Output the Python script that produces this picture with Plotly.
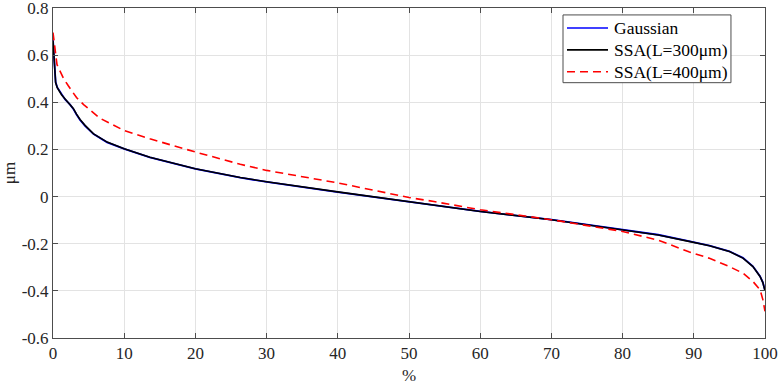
import plotly.graph_objects as go

# Data
x_ssa300 = [0, 0.15, 0.37, 0.6, 1.0, 1.2, 1.7, 2.4, 2.85, 3.3, 3.8, 4.5, 5.7, 7.6, 10, 13.6, 20,
            26.3, 30, 40, 50, 54.3, 60, 70, 80, 85, 89.3, 92.2, 95.0, 96.9, 98.3, 99.3, 99.7, 100]
y_ssa300 = [0.662, 0.57, 0.484, 0.462, 0.442, 0.432, 0.414, 0.392, 0.374, 0.350, 0.327, 0.302,
            0.266, 0.231, 0.203, 0.167, 0.118, 0.081, 0.063, 0.020, -0.021, -0.040, -0.063,
            -0.098, -0.141, -0.163, -0.190, -0.209, -0.233, -0.261, -0.297, -0.339, -0.365, -0.400]

x_gauss = x_ssa300
y_gauss = [0.665, 0.572, 0.486, 0.463, 0.443, 0.433, 0.412, 0.390, 0.372, 0.348, 0.325, 0.300,
           0.265, 0.230, 0.202, 0.166, 0.117, 0.080, 0.062, 0.019, -0.021, -0.040, -0.063,
           -0.098, -0.140, -0.162, -0.189, -0.208, -0.232, -0.260, -0.296, -0.338, -0.364, -0.398]

x_ssa400 = [0, 0.3, 0.56, 0.74, 1.5, 2.15, 2.7, 3.3, 4.3, 6.6, 10, 13.6, 20, 26.3, 30, 40,
            50, 53.5, 60, 70, 80, 85, 89.3, 92.2, 95.0, 96.9, 98.3, 99.3, 99.7, 100]
y_ssa400 = [0.696, 0.61, 0.560, 0.548, 0.500, 0.470, 0.445, 0.420, 0.390, 0.332, 0.280, 0.245,
            0.189, 0.137, 0.111, 0.058, -0.004, -0.021, -0.056, -0.098, -0.148, -0.185,
            -0.234, -0.262, -0.297, -0.325, -0.360, -0.395, -0.437, -0.487]

series_names = ["Gaussian", "SSA(L=300μm)", "SSA(L=400μm)"]
series_colors = ["#0000ff", "#000000", "#ff0000"]
series_dash = ["solid", "solid", "8px,5px"]

x_ticks = [0, 10, 20, 30, 40, 50, 60, 70, 80, 90, 100]
y_ticks = [-0.6, -0.4, -0.2, 0, 0.2, 0.4, 0.6, 0.8]
y_ticktext = ["-0.6", "-0.4", "-0.2", "0", "0.2", "0.4", "0.6", "0.8"]

FONT = "Times New Roman, Liberation Serif, DejaVu Serif, serif"

fig = go.Figure()
series = [(x_gauss, y_gauss, 1.8), (x_ssa300, y_ssa300, 1.6), (x_ssa400, y_ssa400, 1.6)]
for (xs, ys, w), name, col, dash in zip(series, series_names, series_colors, series_dash):
    fig.add_trace(go.Scatter(x=xs, y=ys, mode="lines", name=name, showlegend=False,
                             line=dict(color=col, width=w, dash=dash)))

axis_common = dict(
    showline=True, linecolor="#4d4d4d", linewidth=1, mirror="ticks",
    ticks="inside", ticklen=5, tickcolor="#4d4d4d",
    showgrid=True, gridcolor="#e3e3e3", gridwidth=1, zeroline=False,
    tickfont=dict(family=FONT, size=17, color="#262626"),
    ticklabeloverflow="allow", automargin=False,
)

fig.update_xaxes(range=[0, 100], tickvals=x_ticks,
                 title=dict(text="%", font=dict(family=FONT, size=17, color="#262626"), standoff=6),
                 **axis_common)
fig.update_yaxes(range=[-0.6, 0.8], tickvals=y_ticks, ticktext=y_ticktext,
                 title=dict(text="μm", font=dict(family=FONT, size=17, color="#262626"), standoff=8),
                 **axis_common)

# Custom legend box (paper coordinates of the plot area)
lx0, lx1, ly0, ly1 = 0.7163, 0.9522, 0.7737, 0.9790
fig.add_shape(type="rect", xref="paper", yref="paper", x0=lx0, x1=lx1, y0=ly0, y1=ly1,
              line=dict(color="#4d4d4d", width=1), fillcolor="white", layer="above")
item_y = [0.9396, 0.8732, 0.8069]
for yy, name, col, dash in zip(item_y, series_names, series_colors, series_dash):
    fig.add_shape(type="line", xref="paper", yref="paper", x0=0.7219, x1=0.7795, y0=yy, y1=yy,
                  line=dict(color=col, width=1.6, dash=dash), layer="above")
    fig.add_annotation(x=0.7851, y=yy, xref="paper", yref="paper", text=name, showarrow=False,
                       xanchor="left", yanchor="middle",
                       font=dict(family=FONT, size=17.5, color="#000000"))

fig.update_layout(
    width=779, height=388,
    margin=dict(l=53, r=14, t=8, b=50, autoexpand=False),
    paper_bgcolor="white", plot_bgcolor="white",
    font=dict(family=FONT, size=17, color="#262626"),
    showlegend=False,
)

fig.write_html("out.html")
